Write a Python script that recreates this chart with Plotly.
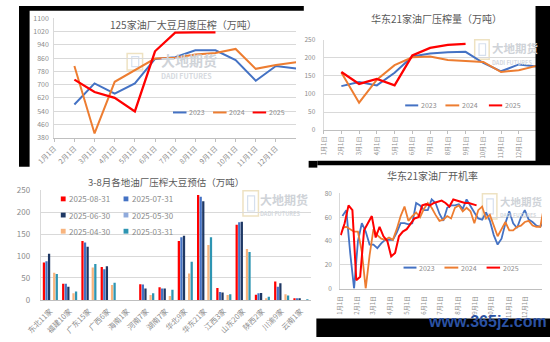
import plotly.graph_objects as go
import pandas as pd

W, H = 550, 342
def px(x): return x / W
def py(y): return 1 - y / H

FONT = "Noto Sans CJK SC"
TICK = "#8c8c8c"
TITLE = "#595959"
GRID = "#d9d9d9"
AXLINE = "#bfbfbf"
BLUE, ORANGE, RED = "#4472C4", "#ED7D31", "#FF0000"

# ---------------- data ----------------
month_labels = ["1月1日", "2月1日", "3月1日", "4月1日", "5月1日", "6月1日",
                "7月1日", "8月1日", "9月1日", "10月1日", "11月1日", "12月1日"]

# chart 1: 125家油厂大豆月度压榨（万吨）, x = month index
c1_x_full = [2, 3, 4, 5, 6, 7, 8, 9, 10, 11, 12, 13]
c1_x_2025 = [2, 3, 4, 5, 6, 7, 8, 9]
c1_2023 = [580, 707, 645, 707, 855, 865, 907, 907, 848, 723, 812, 797]
c1_2024 = [812, 405, 717, 785, 857, 862, 882, 890, 915, 795, 818, 835]
c1_2025 = [730, 655, 620, 538, 901, 1013, 1015, 1015]

# chart 2: 华东21家油厂压榨量（万吨）
c2_2023 = [122, 133, 124, 159, 204, 212, 216, 217, 186, 163, 182, 176]
c2_2024 = [160, 76, 140, 180, 202, 204, 194, 192, 189, 161, 166, 178]
c2_2025 = [161, 128, 142, 124, 207, 228, 236, 239]

# chart 3: 3-8月各地油厂压榨大豆预估（万吨）
regions = ["东北11家", "福建10家", "广东15家", "广西6家", "海南1家", "河南7家", "湖南7家",
           "华北9家", "华东21家", "江西3家", "山东20家", "陕西2家", "川渝9家", "云南1家"]
s_0831 = [85, 37, 134, 75, 0, 36, 29, 134, 239, 27, 171, 12, 42, 4]
s_0731 = [88, 37, 131, 70, 0, 35, 26, 143, 235, 18, 177, 15, 30, 3]
s_0630 = [105, 30, 121, 77, 0, 26, 26, 146, 225, 17, 178, 16, 38, 2]
s_0530 = [None] * 14
s_0430 = [62, 15, 74, 34, 0, 11, 9, 60, 125, 11, 116, 4, 13, 0]
s_0331 = [59, 19, 82, 39, 0, 15, 23, 87, 143, 13, 109, 7, 10, 1]

# chart 4: 华东21家油厂开机率 (weekly, plotted on a common year)
c4_2023 = [61, 66, 30, 0, 40, 55, 48, 37, 37, 34, 38, 41, 41, 41, 47, 55, 55, 54, 55, 72,
           70, 66, 66, 75, 72, 63, 57, 68, 70, 70, 71, 67, 75, 69, 64, 59, 58, 64, 57, 45,
           37, 42, 55, 65, 55, 51, 60, 66, 58, 56, 53, 52, 57]
c4_2024 = [51, 52, 50, 48, 48, 31, 0, 28, 50, 45, 42, 41, 43, 41, 50, 61, 69, 57, 61, 64,
           60, 67, 72, 68, 62, 57, 58, 61, 59, 68, 70, 65, 68, 65, 55, 66, 69, 59, 62, 53,
           44, 50, 56, 49, 49, 52, 53, 56, 57, 53, 52, 52, 70]
c4_2025 = [45, 55, 70, 66, 7, 10, 49, 55, 61, 43, 52, 44, 40, 27, 30, 44, 48, 50, 55, 59,
           60, 70, 71, 70, 72, 73, 74, 72, 69, 75, 74, 73, 72, 72, 71, 70]
c4_dates_full = pd.date_range("2023-01-05", periods=len(c4_2023), freq="7D")
c4_dates_2025 = pd.date_range("2023-01-02", periods=len(c4_2025), freq="7D")
month_starts = pd.date_range("2023-01-01", periods=12, freq="MS")

fig = go.Figure()

def line(x, y, color, width, xa, ya):
    fig.add_trace(go.Scatter(x=x, y=y, mode="lines", line=dict(color=color, width=width),
                             xaxis=xa, yaxis=ya, showlegend=False, hoverinfo="skip"))

line(c1_x_full, c1_2023, BLUE, 2, "x", "y")
line(c1_x_full, c1_2024, ORANGE, 2, "x", "y")
line(c1_x_2025, c1_2025, RED, 2.3, "x", "y")

line(c1_x_full, c2_2023, BLUE, 2, "x2", "y2")
line(c1_x_full, c2_2024, ORANGE, 2, "x2", "y2")
line(c1_x_2025, c2_2025, RED, 2.3, "x2", "y2")

bar_series = [("2025-08-31", s_0831, "#FF0000"), ("2025-07-31", s_0731, "#4472C4"),
              ("2025-06-30", s_0630, "#1F3864"), ("2025-05-30", s_0530, "#8FAADC"),
              ("2025-04-30", s_0430, "#F8B47E"), ("2025-03-31", s_0331, "#2E95B2")]
for name, vals, col in bar_series:
    fig.add_trace(go.Bar(x=regions, y=vals, name=name, marker=dict(color=col, line=dict(width=0)),
                         xaxis="x3", yaxis="y3", showlegend=False, hoverinfo="skip"))

line(c4_dates_full, c4_2023, BLUE, 1.8, "x4", "y4")
line(c4_dates_full, c4_2024, ORANGE, 1.8, "x4", "y4")
line(c4_dates_2025, c4_2025, RED, 2, "x4", "y4")

shapes, annos = [], []

def text(x, y, t, size, color=TICK, xa="left", ya="middle", **kw):
    annos.append(dict(x=px(x), y=py(y), xref="paper", yref="paper", text=t, showarrow=False,
                      xanchor=xa, yanchor=ya, borderpad=0,
                      font=dict(size=size, color=color, family=kw.get("family", FONT))))

def seg(x0, x1, y, color, w=2):
    shapes.append(dict(type="line", xref="paper", yref="paper", x0=px(x0), x1=px(x1),
                       y0=py(y), y1=py(y), line=dict(color=color, width=w)))

def rect(x0, y0, x1, y1, fill, line_color=None, layer="above", lw=0):
    shapes.append(dict(type="rect", xref="paper", yref="paper", x0=px(x0), x1=px(x1),
                       y0=py(y1), y1=py(y0), fillcolor=fill, layer=layer,
                       line=dict(width=lw, color=line_color or fill)))

def watermark(lx, ly, lw_, lh, tx, ty, size, ty2, size2, t1="大地期货", t2="DADI FUTURES"):
    rect(lx, ly, lx + lw_, ly + lh, "rgba(0,0,0,0)", "#eee2c2", layer="below", lw=1.5)
    rect(lx + lw_ * 0.3, ly + lh * 0.2, lx + lw_ * 0.75, ly + lh * 0.8, "rgba(0,0,0,0)", "#d6e0ee", layer="below", lw=1.2)
    text(tx, ty, "<b>" + t1 + "</b>", size, "#cfd3d8")
    text(tx, ty2, "<b>" + t2 + "</b>", size2, "#d5d9de")

# watermarks
watermark(112, 49, 16, 17, 146, 56, 14, 72, 7)
watermark(472, 35, 15, 20, 489, 43, 11.5, 58.5, 5.5)
watermark(232, 191, 16, 26, 249, 199.5, 12, 214.5, 5.5)
watermark(480, 194, 15, 26, 497, 202.5, 10.5, 215, 5)

# titles
text(170, 19, "125家油厂大豆月度压榨（万吨）", 10, TITLE, xa="center")
text(432, 12.5, "华东21家油厂压榨量（万吨）", 10, TITLE, xa="center")
text(152, 182, "3-8月各地油厂压榨大豆预估（万吨）", 9.5, TITLE, xa="center")
text(428, 175, "华东21家油厂开机率", 10, TITLE, xa="center")

# line legends
for (y, items) in [
    (110, [(159.5, 173.5, 175, BLUE, "2023"), (201, 215, 216.5, ORANGE, "2024"), (242, 256, 257.5, RED, "2025")]),
    (102.7, [(400, 413.5, 415, BLUE, "2023"), (441.7, 456, 457.5, ORANGE, "2024"), (486.7, 500.5, 502, RED, "2025")]),
    (270.3, [(398.3, 411.7, 413, BLUE, "2023"), (440.7, 455, 456.5, ORANGE, "2024"), (484.3, 498.3, 500, RED, "2025")]),
]:
    for x0, x1, tx, col, lab in items:
        seg(x0, x1, y, col, 2)
        text(tx, y, lab, 7, "#8c8c8c")

# bar legend
for i, (name, vals, col) in enumerate(bar_series):
    row, colm = divmod(i, 2)
    y = 199.3 + row * 16.7
    x0 = 43.3 + colm * 65
    rect(x0, y - 2.5, x0 + 5, y + 2.5, col, layer="above")
    text(x0 + 7.2, y, name, 8, "#8c8c8c")

# black crop borders
rect(0, 0, 295, 5, "black")
rect(0, 0, 11, 166, "black")
rect(535, 0, 550, 163, "black")
rect(300, 160, 309, 167, "black")
rect(309, 160, 550, 164.5, "black")
rect(308, 323, 550, 342, "black")
text(485, 326, "<b>www.365jz.com</b>", 16, "#2b52a3", xa="center", family="Liberation Sans")

tickf = lambda s: dict(size=s, color=TICK, family=FONT)

fig.update_layout(
    width=W, height=H, margin=dict(l=0, r=0, t=0, b=0),
    paper_bgcolor="white", plot_bgcolor="rgba(0,0,0,0)",
    font=dict(family=FONT), showlegend=False,
    barmode="group", bargap=0.2, bargroupgap=0.12,
    shapes=shapes, annotations=annos,
    xaxis=dict(domain=[px(36.5), px(287)], anchor="y", range=[1, 13], tickvals=list(range(1, 13)),
               ticktext=month_labels, tickangle=-45, tickfont=tickf(7), showline=True, linecolor=AXLINE,
               ticks="outside", ticklen=3, tickcolor=AXLINE, showgrid=False, zeroline=False),
    yaxis=dict(domain=[py(136), py(12.7)], anchor="x", range=[380, 1100],
               tickvals=list(range(380, 1101, 80)), tickfont=tickf(7), gridcolor=GRID,
               showline=True, linecolor=GRID, zeroline=False, ticklabelstandoff=3),
    xaxis2=dict(domain=[px(315.5), px(537)], anchor="y2", range=[1, 13.05], tickvals=list(range(1, 13)),
                ticktext=month_labels, tickangle=-90, tickfont=tickf(6), showline=True, linecolor=AXLINE,
                ticks="outside", ticklen=3, tickcolor=AXLINE, showgrid=False, zeroline=False),
    yaxis2=dict(domain=[py(128.3), py(35)], anchor="x2", range=[0, 250], tickvals=list(range(0, 251, 50)),
                tickfont=tickf(6.5), gridcolor=GRID, showline=True, linecolor=GRID, zeroline=False,
                ticklabelstandoff=6),
    xaxis3=dict(domain=[px(22.5), px(302)], anchor="y3", range=[-0.5, 13.5], tickangle=-45,
                tickfont=tickf(7.5), showline=True, linecolor=AXLINE, showgrid=False, zeroline=False,
                ticklabelstandoff=3),
    yaxis3=dict(domain=[py(303.7), py(190.3)], anchor="x3", range=[0, 250], tickvals=list(range(0, 251, 50)),
                tickfont=tickf(8), gridcolor=GRID, showline=True, linecolor=GRID, zeroline=False,
                ticklabelstandoff=8),
    xaxis4=dict(domain=[px(332.7), px(541.7)], anchor="y4", type="date",
                range=["2023-01-01", "2023-12-31"], tickvals=list(month_starts), ticktext=month_labels,
                tickangle=-90, tickfont=tickf(6), showline=True, linecolor=AXLINE, showgrid=False,
                zeroline=False, ticklabelstandoff=4),
    yaxis4=dict(domain=[py(292), py(193.7)], anchor="x4", range=[0, 80], tickvals=list(range(0, 81, 20)),
                tickfont=tickf(6.5), gridcolor=GRID, showline=True, linecolor=GRID, zeroline=False,
                ticklabelstandoff=6),
)

fig.write_html("out.html")
